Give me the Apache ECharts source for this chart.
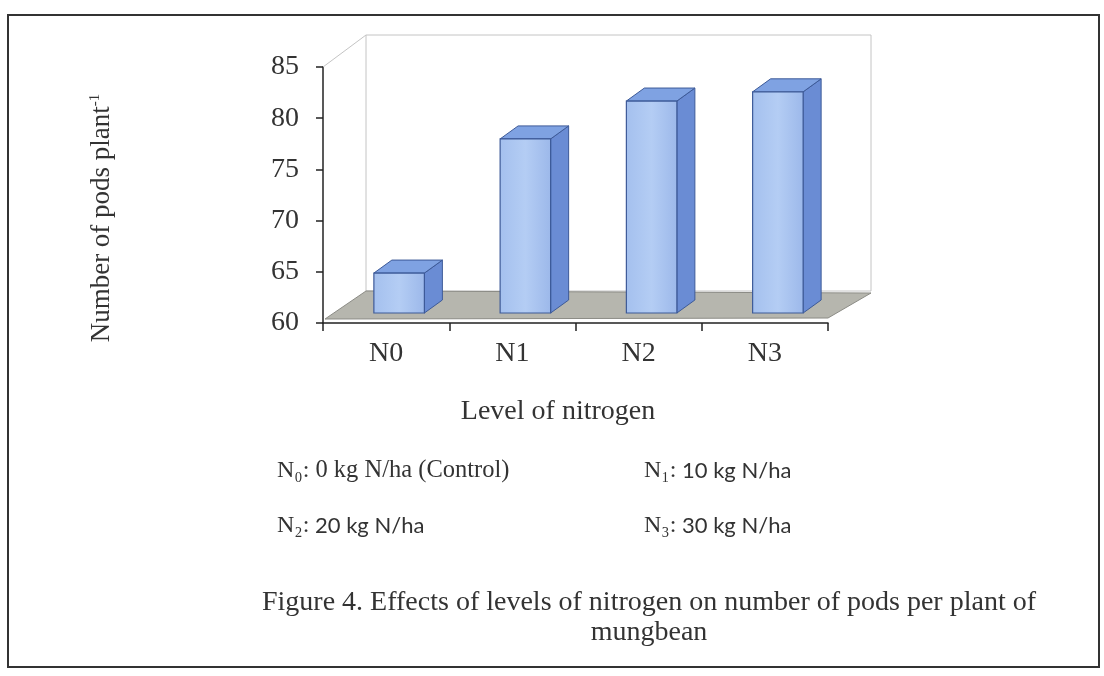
<!DOCTYPE html>
<html>
<head>
<meta charset="utf-8">
<script src="https://cdn.jsdelivr.net/npm/echarts@6/dist/echarts.min.js"></script>
<style>
html,body{margin:0;padding:0;background:#fff;}
#chart{width:1104px;height:676px;}
</style>
</head>
<body>
<div id="chart"></div>
<script>
const categories = ['N0', 'N1', 'N2', 'N3'];
const podsPerPlant = [63.9, 77.0, 80.7, 81.6];
const yTicks = [60, 65, 70, 75, 80, 85];
const legendItems = [
  ['N\u2080:', ' 0 kg N/ha (Control)', 'serif'],
  ['N\u2081:', ' 10 kg N/ha', 'sans'],
  ['N\u2082:', ' 20 kg N/ha', 'sans'],
  ['N\u2083:', ' 30 kg N/ha', 'sans']
];
const captionLines = [
  'Figure 4. Effects of levels of nitrogen on number of pods per plant of',
  'mungbean'
];

const SERIF = '"Liberation Serif", "Times New Roman", serif';
const SANS = 'Lato, "Open Sans", "Liberation Sans", sans-serif';

// depth offsets (pixels) of the pseudo-3D look
const WALL = [43, -32];
const FRONT = [13, -10];
const DEPTH = [18, -13];

const chart = echarts.init(document.getElementById('chart'), null, {renderer: 'canvas'});

const legendGraphics = legendItems.map((it, i) => {
  const col = i % 2, row = Math.floor(i / 2);
  return {
    type: 'text',
    x: col === 0 ? 277 : 644,
    y: row === 0 ? 471 : 526,
    style: {
      text: '{n|' + it[0] + '}{' + (it[2] === 'serif' ? 'r' : 'c') + '|' + it[1] + '}',
      verticalAlign: 'middle',
      rich: {
        n: {fontFamily: SERIF, fontSize: 24, fill: '#333'},
        r: {fontFamily: SERIF, fontSize: 24.5, fill: '#333'},
        c: {fontFamily: SANS, fontSize: 22, fill: '#333'}
      }
    }
  };
});

const option = {
  backgroundColor: '#ffffff',
  animation: false,
  grid: {left: 323, top: 67, width: 505, height: 256},
  xAxis: {
    type: 'category',
    data: categories,
    axisLine: {lineStyle: {color: '#222', width: 1.5}},
    axisTick: {show: true, length: 8, lineStyle: {color: '#222', width: 1.5}},
    axisLabel: {fontFamily: SERIF, fontSize: 28, color: '#333', margin: 17},
    name: 'Level of nitrogen',
    nameLocation: 'middle',
    nameGap: 75,
    nameTextStyle: {fontFamily: SERIF, fontSize: 28, color: '#333', padding: [0, 35, 0, 0]}
  },
  yAxis: {
    type: 'value',
    min: yTicks[0],
    max: yTicks[yTicks.length - 1],
    interval: 5,
    splitLine: {show: false},
    axisLine: {show: true, lineStyle: {color: '#222', width: 1.5}},
    axisTick: {show: true, length: 7, lineStyle: {color: '#222', width: 1.5}},
    axisLabel: {fontFamily: SERIF, fontSize: 28, color: '#333', margin: 24}
  },
  graphic: [
    {
      type: 'rect', z: -10, silent: true,
      shape: {x: 8, y: 15, width: 1091, height: 652},
      style: {fill: 'none', stroke: '#333', lineWidth: 2}
    },
    {
      type: 'text', x: 102, y: 218, rotation: Math.PI / 2,
      style: {
        text: '{a|Number of pods plant}{s|-1}',
        align: 'center', verticalAlign: 'middle',
        rich: {
          a: {fontFamily: SERIF, fontSize: 27, fill: '#333'},
          s: {fontFamily: SERIF, fontSize: 15, fill: '#333', padding: [0, 0, 14, 0]}
        }
      }
    }
  ].concat(legendGraphics).concat(captionLines.map((t, i) => ({
    type: 'text', x: 649, y: i === 0 ? 603 : 633,
    style: {text: t, align: 'center', verticalAlign: 'middle', fontFamily: SERIF, fontSize: 28, fill: '#333'}
  }))),
  series: [
    {
      type: 'custom',
      z: 1,
      silent: true,
      data: [[0, yTicks[0]]],
      renderItem: function (params, api) {
        const cs = params.coordSys;
        const x0 = cs.x, y0 = cs.y, w = cs.width, h = cs.height;
        const yb = y0 + h;
        return {
          type: 'group',
          children: [
            {
              type: 'rect',
              shape: {x: x0 + WALL[0], y: y0 + WALL[1], width: w, height: h},
              style: {fill: '#ffffff', stroke: '#c4c4c4', lineWidth: 1}
            },
            {
              type: 'line',
              shape: {x1: x0, y1: y0, x2: x0 + WALL[0], y2: y0 + WALL[1]},
              style: {stroke: '#c4c4c4', lineWidth: 1}
            },
            {
              type: 'polygon',
              shape: {points: [
                [x0 + 2, yb - 4], [x0 + w, yb - 5],
                [x0 + w + WALL[0], yb + WALL[1] + 2], [x0 + WALL[0], yb + WALL[1]]
              ]},
              style: {fill: '#b6b6ae', stroke: '#8c8c86', lineWidth: 1}
            }
          ]
        };
      }
    },
    {
      type: 'custom',
      z: 3,
      data: categories.map((c, i) => [i, podsPerPlant[i]]),
      renderItem: function (params, api) {
        const cat = api.value(0), v = api.value(1);
        const base = api.coord([cat, yTicks[0]]);
        const top = api.coord([cat, v]);
        const bw = api.size([1, 0])[0] * 0.4;
        const xl = base[0] - bw / 2 + FRONT[0];
        const xr = base[0] + bw / 2 + FRONT[0];
        const yb = base[1] + FRONT[1];
        const yt = top[1] + FRONT[1];
        const edge = '#3d5a98';
        return {
          type: 'group',
          children: [
            {
              type: 'polygon',
              shape: {points: [[xr, yt], [xr + DEPTH[0], yt + DEPTH[1]], [xr + DEPTH[0], yb + DEPTH[1]], [xr, yb]]},
              style: {fill: '#6a8cd4', stroke: edge, lineWidth: 1}
            },
            {
              type: 'polygon',
              shape: {points: [[xl, yt], [xr, yt], [xr + DEPTH[0], yt + DEPTH[1]], [xl + DEPTH[0], yt + DEPTH[1]]]},
              style: {fill: '#7fa2e2', stroke: edge, lineWidth: 1}
            },
            {
              type: 'rect',
              shape: {x: xl, y: yt, width: xr - xl, height: yb - yt},
              style: {
                fill: new echarts.graphic.LinearGradient(0, 0, 1, 0, [
                  {offset: 0, color: '#a4c0ee'},
                  {offset: 0.5, color: '#b4cdf4'},
                  {offset: 1, color: '#9cb8ea'}
                ]),
                stroke: edge, lineWidth: 1.2
              }
            }
          ]
        };
      }
    }
  ]
};
chart.setOption(option);
</script>
</body>
</html>
